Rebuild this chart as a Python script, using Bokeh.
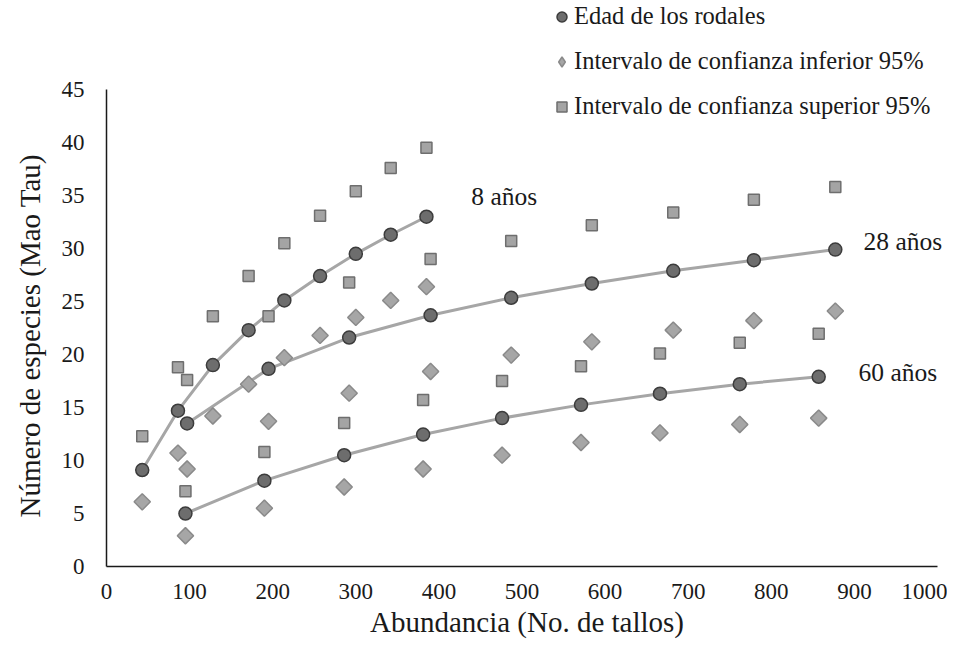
from bokeh.plotting import figure
from bokeh.models import Legend, LegendItem, Label, FixedTicker, Range1d, Title
from bokeh.embed import file_html
from bokeh.resources import INLINE
import math

# ---- data ----
x_8 = [43, 86, 128, 171, 214, 257, 300, 342, 385]
mean_8 = [9.1, 14.7, 19.0, 22.3, 25.1, 27.4, 29.5, 31.3, 33.0]
low_8 = [6.1, 10.7, 14.2, 17.2, 19.7, 21.8, 23.5, 25.1, 26.4]
up_8 = [12.3, 18.8, 23.6, 27.4, 30.5, 33.1, 35.4, 37.6, 39.5]

x_28 = [97, 195, 292, 390, 487, 584, 682, 779, 877]
mean_28 = [13.5, 18.65, 21.6, 23.7, 25.35, 26.7, 27.9, 28.9, 29.9]
low_28 = [9.2, 13.7, 16.35, 18.4, 19.95, 21.2, 22.3, 23.2, 24.1]
up_28 = [17.6, 23.6, 26.8, 29.0, 30.7, 32.2, 33.4, 34.6, 35.8]

x_60 = [95, 190, 286, 381, 476, 571, 666, 762, 857]
mean_60 = [5.0, 8.1, 10.5, 12.45, 14.0, 15.25, 16.3, 17.2, 17.9]
low_60 = [2.9, 5.5, 7.5, 9.2, 10.5, 11.7, 12.6, 13.4, 14.0]
up_60 = [7.1, 10.8, 13.55, 15.7, 17.5, 18.9, 20.1, 21.1, 21.95]

x_ticks = [0, 100, 200, 300, 400, 500, 600, 700, 800, 900, 1000]
y_ticks = [0, 5, 10, 15, 20, 25, 30, 35, 40, 45]

legend_labels = ["Edad de los rodales",
                 "Intervalo de confianza inferior 95%",
                 "Intervalo de confianza superior 95%"]
age_labels = ["8 años", "28 años", "60 años"]
age_label_pos = [(439, 34.9), (911, 30.7), (905, 18.3)]
x_title = "Abundancia (No. de tallos)"
y_title = "Número de especies (Mao Tau)"

FONT = "Liberation Serif"
TXT_C = "#1a1a1a"

p = figure(width=947, height=651, output_backend="svg", toolbar_location=None,
           x_range=Range1d(0, 1012), y_range=Range1d(0, 53.4),
           min_border_left=105, min_border_right=0, min_border_top=0,
           min_border_bottom=85)
p.outline_line_color = None
p.grid.grid_line_color = None
p.background_fill_color = "white"

for ax in (p.xaxis[0], p.yaxis[0]):
    ax.axis_line_color = TXT_C
    ax.axis_line_width = 1.5
    ax.major_tick_line_color = None
    ax.minor_tick_line_color = None
    ax.major_tick_out = 0
    ax.major_tick_in = 0
    ax.major_label_text_font = FONT
    ax.major_label_text_font_size = "23px"
    ax.major_label_text_color = TXT_C
    ax.axis_label_text_font = FONT
    ax.axis_label_text_font_size = "29px"
    ax.axis_label_text_font_style = "normal"
    ax.axis_label_text_color = TXT_C

p.xaxis.bounds = (0, 1000)
p.yaxis.bounds = (0, 45)
p.xaxis.ticker = FixedTicker(ticks=x_ticks)
p.yaxis.ticker = FixedTicker(ticks=y_ticks)
p.xaxis.axis_label = x_title
p.xaxis.major_label_standoff = 17
p.xaxis.axis_label_standoff = 4
p.yaxis.major_label_standoff = 22

# y title as a side title so that it can be centred on the 0-45 span
p.add_layout(Title(text=y_title, align="left", offset=49, standoff=24,
                   vertical_align="middle",
                   text_font=FONT, text_font_size="29px",
                   text_font_style="normal", text_color=TXT_C), "left")

LINE_C = "#a6a6a6"
CIRC_F, CIRC_L = "#6d6d6d", "#3c3c3c"
SQ_F, SQ_L = "#a4a4a4", "#6e6e6e"
DI_F, DI_L = "#a6a6a6", "#8a8a8a"

series = [(x_8, mean_8, low_8, up_8), (x_28, mean_28, low_28, up_28),
          (x_60, mean_60, low_60, up_60)]

for xs, m, lo, up in series:
    p.line(xs, m, line_color=LINE_C, line_width=3)

sq_r = None
circ_r = None
diam_leg = None
for xs, m, lo, up in series:
    # narrow diamonds hidden beneath the rotated squares; they give the legend symbol
    diam_leg = p.scatter(xs, lo, marker="diamond", size=12,
                         fill_color=DI_F, line_color=DI_L, line_width=1.5)
    p.scatter(xs, lo, marker="square", angle=math.pi / 4, size=11.5,
              fill_color=DI_F, line_color=DI_L, line_width=1.5)
for xs, m, lo, up in series:
    sq_r = p.scatter(xs, up, marker="square", size=11,
                     fill_color=SQ_F, line_color=SQ_L, line_width=1.5)
for xs, m, lo, up in series:
    circ_r = p.scatter(xs, m, marker="circle", size=13,
                       fill_color=CIRC_F, line_color=CIRC_L, line_width=1.5)

for txt, (lx, ly) in zip(age_labels, age_label_pos):
    p.add_layout(Label(x=lx, y=ly, text=txt, text_font=FONT,
                       text_font_size="25.5px", text_color=TXT_C,
                       text_baseline="middle", text_align="left"))

legend = Legend(items=[LegendItem(label=legend_labels[0], renderers=[circ_r]),
                       LegendItem(label=legend_labels[1], renderers=[diam_leg]),
                       LegendItem(label=legend_labels[2], renderers=[sq_r])],
                location=(443, 446), orientation="vertical",
                glyph_width=25, glyph_height=25, label_height=25,
                label_standoff=0, spacing=17, padding=0, margin=0,
                background_fill_alpha=0, border_line_color=None,
                label_text_font=FONT, label_text_font_size="24.5px",
                label_text_color=TXT_C)
p.add_layout(legend, "center")

open("out.html", "w").write(file_html(p, INLINE))
